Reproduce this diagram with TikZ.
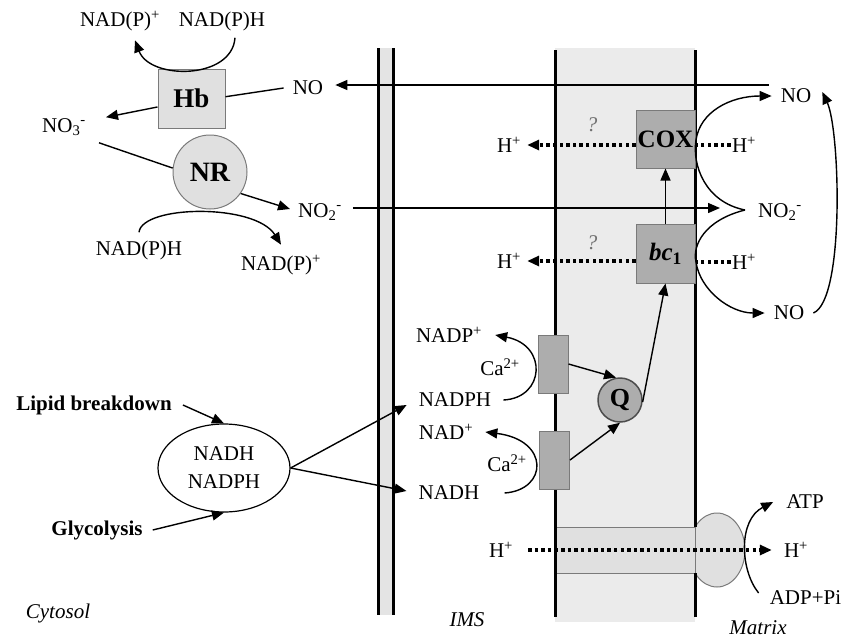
\documentclass[tikz,border=0pt]{standalone}
\usepackage{fontspec}
\setmainfont{Liberation Serif}
\usetikzlibrary{arrows.meta,shapes.geometric,calc}
\definecolor{outerfill}{HTML}{E4E4E4}
\definecolor{innerfill}{HTML}{EBEBEB}
\definecolor{lightbox}{HTML}{E0E0E0}
\definecolor{darkfill}{HTML}{ADADAD}
\definecolor{boxline}{HTML}{7A7A7A}
\definecolor{qgray}{HTML}{707070}
\begin{document}
\begin{tikzpicture}[x=1pt,y=-1pt,inner sep=1pt,
  font=\fontsize{21}{28}\selectfont,
  arr/.style={-{Triangle[length=12pt,width=10pt]}, line width=1.4pt},
  ln/.style={line width=1.4pt},
  dotln/.style={line width=3.6pt, dash pattern=on 3.4pt off 3.2pt},
  dotarr/.style={dotln, -{Triangle[length=12pt,width=10pt]}},
  memline/.style={line width=3pt},
  hbbox/.style={draw=boxline, fill=lightbox, line width=1pt, minimum width=67pt, minimum height=59pt, font=\fontsize{27}{30}\selectfont\bfseries},
  nrcirc/.style={circle, draw=boxline, fill=lightbox, line width=1pt, minimum size=74pt, font=\fontsize{28}{30}\selectfont\bfseries},
  darkbox/.style={draw=boxline, fill=darkfill, line width=1pt, minimum width=59pt, minimum height=58pt, font=\fontsize{25}{28}\selectfont\bfseries},
  dhbox/.style={draw=boxline, fill=darkfill, line width=1pt, minimum width=30pt, minimum height=58pt},
  qcirc/.style={circle, draw=black!70, fill=darkfill, line width=1.5pt, minimum size=44pt, inner sep=0pt, font=\fontsize{26}{28}\selectfont\bfseries},
  qmark/.style={font=\fontsize{21}{22}\selectfont\itshape, text=qgray},
  boldlab/.style={font=\fontsize{21}{24}\selectfont\bfseries},
  itlab/.style={font=\fontsize{21}{24}\selectfont\itshape},
  synth/.style={draw=boxline, fill=lightbox, line width=1pt}
]
\useasboundingbox (0,0) rectangle (841,638);

% ---------- membranes ----------
\fill[outerfill] (378,48) rectangle (393,615);
\draw[memline] (378,48) -- (378,615) (393,48) -- (393,615);
\fill[innerfill] (555,48) rectangle (695,622);
\begin{scope}
  \clip (695,480) rectangle (790,620);
  \draw[synth] (717,550) ellipse [x radius=28, y radius=37];
\end{scope}
\draw[synth] (555,527) rectangle (695,573);
\draw[memline] (555,50) -- (555,617);
\draw[memline] (695,50) -- (695,527) (695,573) -- (695,617);

% ---------- cytosol side ----------
\node[hbbox] (Hb) at (191.5,98.5) {Hb};
\node[nrcirc] (NR) at (210,172) {NR};
\node (nadpA) at (120,21) {NAD(P)\textsuperscript{+}};
\node (nadphA) at (222,21) {NAD(P)H};
\node (NOa) at (308,88) {NO};
\node (NOthree) at (64,127) {NO\textsubscript{3}\textsuperscript{-}};
\node (NOtwoA) at (320,212) {NO\textsubscript{2}\textsuperscript{-}};
\node (nadphB) at (139,250) {NAD(P)H};
\node (nadpB) at (281,265) {NAD(P)\textsuperscript{+}};

\node[ellipse, draw, line width=1.2pt, fill=white, minimum width=132pt, minimum height=88pt, inner sep=0pt, align=center] (pool) at (224,468) {NADH\\NADPH};
\node[boldlab] (lipid) at (94,405) {Lipid breakdown};
\node[boldlab] (glyc) at (97,530) {Glycolysis};
\node[itlab] (cyt) at (58,613) {Cytosol};
\node[itlab] (ims) at (467,620) {IMS};
\node[itlab] (mat) at (758,628) {Matrix};

% ---------- matrix side ----------
\node (NOb) at (796,96) {NO};
\node (NOc) at (789,313) {NO};
\node (NOtwoB) at (780,212) {NO\textsubscript{2}\textsuperscript{-}};
\node[darkbox] (COX) at (665.5,139) {COX};
\node[darkbox, minimum height=59pt] (bc) at (665.5,253.5) {\textbf{\textit{bc}}\textsubscript{\textbf{1}}};
\node (HLa) at (509,145) {H\textsuperscript{+}};
\node (HRa) at (744,145) {H\textsuperscript{+}};
\node (HLb) at (509,261) {H\textsuperscript{+}};
\node (HRb) at (744,262) {H\textsuperscript{+}};
\node[qmark] (qa) at (592,125) {?};
\node[qmark] (qb) at (592,243) {?};
\node[qcirc] (Q) at (620,400) {Q};
\node[dhbox] (dhA) at (553,364) {};
\node[dhbox] (dhB) at (554.5,460) {};
\node (nadpC) at (449,335) {NADP\textsuperscript{+}};
\node (nadphC) at (455,400) {NADPH};
\node (nadC) at (446,432) {NAD\textsuperscript{+}};
\node (nadhC) at (449,493) {NADH};
\node (caA) at (500,367) {Ca\textsuperscript{2+}};
\node (caB) at (507,463) {Ca\textsuperscript{2+}};
\node (HLc) at (501,550) {H\textsuperscript{+}};
\node (HRc) at (796,550) {H\textsuperscript{+}};
\node (atp) at (805,502) {ATP};
\node (adp) at (805.5,598) {ADP+Pi};

% ---------- connectors: cytosol ----------
\draw[arr] ([xshift=13pt,yshift=-6pt]nadphA.south) .. controls (232,80) and (150,80) .. ([xshift=15pt,yshift=-8pt]nadpA.south);
\draw[arr] (Hb.194) -- ([xshift=19pt]NOthree.north east);
\draw[ln] ([xshift=-8pt]NOa.west) -- (Hb.3);
\draw[arr] ([xshift=-11pt,yshift=11pt]NOb.west) -- ([xshift=11pt,yshift=3pt]NOa.east);
\draw[ln] ([xshift=12pt,yshift=-6pt]NOthree.south east) -- (NR.174);
\draw[arr] (NR.-35) -- ([xshift=-7pt,yshift=3pt]NOtwoA.west);
\draw[arr] ([yshift=7pt]nadphB.north) .. controls (142,205) and (255,203) .. ([yshift=9pt]nadpB.north);
\draw[arr] ([xshift=10pt,yshift=4pt]NOtwoA.east) -- ([xshift=-37pt,yshift=4pt]NOtwoB.west);

\draw[arr] (pool.east) -- ([xshift=-11pt,yshift=-5pt]nadphC.west);
\draw[arr] (pool.east) -- ([xshift=-11pt,yshift=2pt]nadhC.west);
\draw[arr] ([xshift=10pt]lipid.east) -- (pool.north);
\draw[arr] ([xshift=9pt]glyc.east) -- (pool.south);

% ---------- connectors: membrane / matrix ----------
\coordinate (jn) at ([xshift=-12pt,yshift=2pt]NOtwoB.west);
\draw[arr] (jn) .. controls (705,202) and (692,165) .. (696,140) .. controls (700,112) and (730,96) .. ([xshift=-8pt]NOb.west);
\draw[arr] (jn) .. controls (705,220) and (692,245) .. (696,262) .. controls (700,290) and (730,313) .. ([xshift=-8pt]NOc.west);
\draw[arr] ([xshift=8pt]NOc.east) .. controls (845,300) and (840,130) .. ([xshift=10pt,yshift=4pt]NOb.east);

\draw[dotln] (HRa.west) -- (COX.east |- HRa.west);
\draw[dotarr] (COX.west |- HLa.east) -- ([xshift=5pt]HLa.east);
\draw[dotln] (HRb.west) -- (bc.east |- HRb.west);
\draw[dotarr] (bc.west |- HLb.east) -- ([xshift=5pt]HLb.east);

\draw[arr] (bc.north) -- (COX.south);
\draw[arr] (Q.-5) -- (bc.south);
\draw[arr] (dhA.east) -- (Q.100);
\draw[arr] (dhB.east) -- (Q.south);

\draw[arr] ([xshift=11pt]nadphC.east) .. controls (545,398) and (548,345) .. ([xshift=12pt]nadpC.east);
\draw[arr] ([xshift=24pt]nadhC.east) .. controls (548,490) and (550,440) .. ([xshift=11pt]nadC.east);

\draw[dotarr] ([xshift=14pt]HLc.east) -- ([xshift=-11pt]HRc.west);
\draw[arr] ([xshift=-10pt,yshift=5pt]adp.west) .. controls (740,570) and (738,520) .. ([xshift=-12pt]atp.west);
\end{tikzpicture}
\end{document}
